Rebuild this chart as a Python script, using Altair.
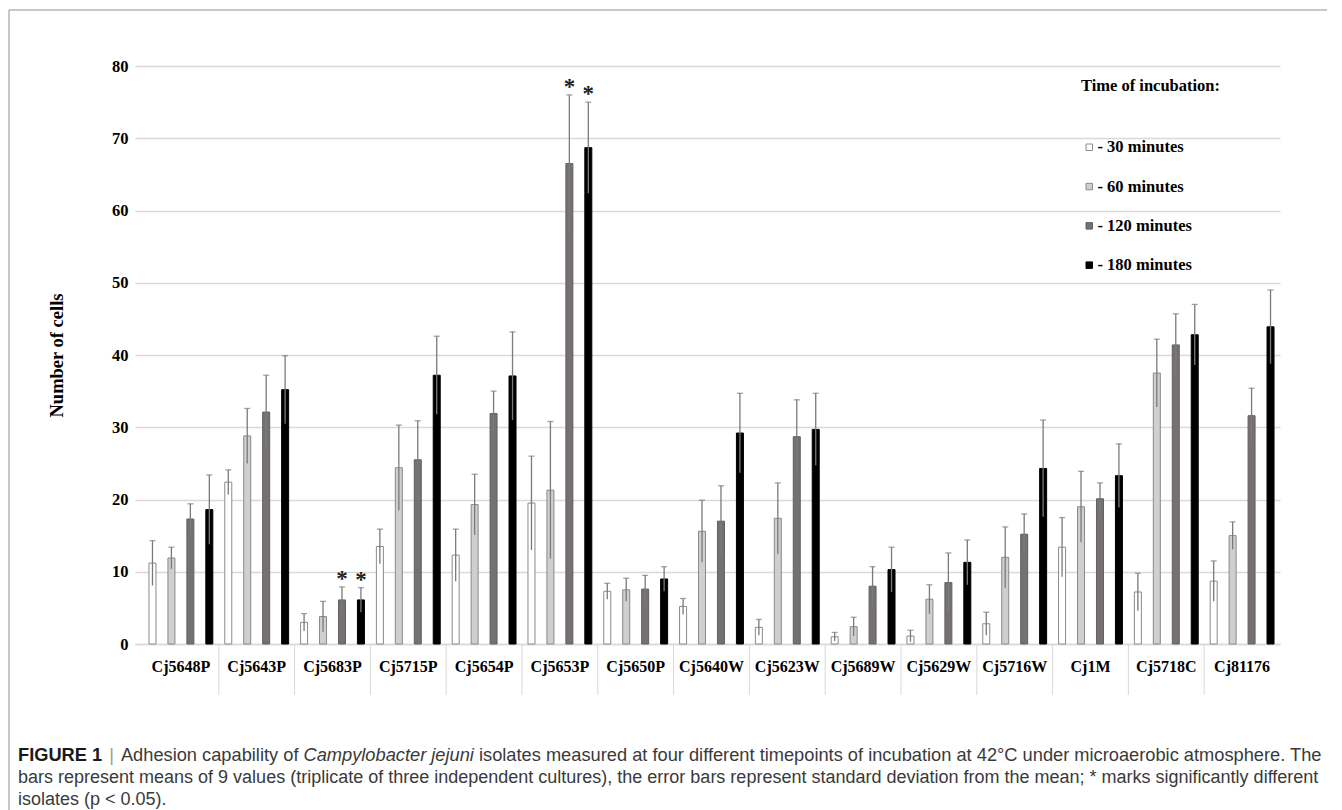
import altair as alt
import pandas as pd

# ---------------- data ----------------
isolates = ["Cj5648P", "Cj5643P", "Cj5683P", "Cj5715P", "Cj5654P", "Cj5653P", "Cj5650P",
            "Cj5640W", "Cj5623W", "Cj5689W", "Cj5629W", "Cj5716W", "Cj1M", "Cj5718C", "Cj81176"]
times = ["30 minutes", "60 minutes", "120 minutes", "180 minutes"]

mean_30 = [11.2, 22.4, 3.0, 13.5, 12.3, 19.5, 7.3, 5.2, 2.3, 1.0, 1.1, 2.8, 13.4, 7.2, 8.7]
sd_30 = [3.1, 1.7, 1.2, 2.4, 3.6, 6.5, 1.1, 1.1, 1.1, 0.6, 0.8, 1.6, 4.1, 2.6, 2.8]
mean_60 = [11.9, 28.8, 3.8, 24.4, 19.3, 21.3, 7.5, 15.6, 17.4, 2.4, 6.2, 12.0, 19.0, 37.5, 15.0]
sd_60 = [1.5, 3.8, 2.1, 5.9, 4.2, 9.5, 1.6, 4.3, 4.9, 1.3, 2.0, 4.2, 4.9, 4.7, 1.9]
mean_120 = [17.3, 32.1, 6.1, 25.5, 31.9, 66.5, 7.6, 17.0, 28.7, 8.0, 8.5, 15.2, 20.1, 41.4, 31.6]
sd_120 = [2.1, 5.1, 1.8, 5.4, 3.1, 9.5, 1.9, 4.9, 5.1, 2.7, 4.1, 2.8, 2.2, 4.3, 3.8]
mean_180 = [18.6, 35.2, 6.1, 37.2, 37.1, 68.7, 9.0, 29.2, 29.7, 10.3, 11.3, 24.3, 23.3, 42.8, 43.9]
sd_180 = [4.8, 4.7, 1.7, 5.4, 6.1, 6.3, 1.7, 5.5, 5.0, 3.1, 3.1, 6.7, 4.4, 4.2, 5.1]

significant = [("Cj5683P", "120 minutes"), ("Cj5683P", "180 minutes"),
               ("Cj5653P", "120 minutes"), ("Cj5653P", "180 minutes")]

y_ticks = [0, 10, 20, 30, 40, 50, 60, 70, 80]

legend_title = "Time of incubation:"
y_title = "Number of cells"
cap_bold = "FIGURE 1"
cap_bar = "|"
cap_a = "Adhesion capability of"
cap_it = "Campylobacter jejuni"
cap_b = ("isolates measured at four different timepoints of incubation at 42°C under "
         "microaerobic atmosphere. The")
cap_line2 = ("bars represent means of 9 values (triplicate of three independent cultures), "
             "the error bars represent standard deviation from the mean; * marks significantly different")
cap_line3 = "isolates (p < 0.05)."

# ---------------- table ----------------
means = [mean_30, mean_60, mean_120, mean_180]
sds = [sd_30, sd_60, sd_120, sd_180]
rows = []
for i, iso in enumerate(isolates):
    for k, t in enumerate(times):
        m, s = means[k][i], sds[k][i]
        rows.append(dict(isolate=iso, time=t, mean=m, lo=m - s, hi=m + s,
                         sig=(iso, t) in significant))
df = pd.DataFrame(rows)

# ---------------- styles ----------------
SERIF = "Liberation Serif"
SANS = "Liberation Sans"
fills = ["#ffffff", "#d0cece", "#767171", "#000000"]
strokes = ["#8a8a8a", "#8a8a8a", "#646060", "#000000"]
ERR = "#7a7a7a"
GRID = "#d9d9d9"

STEP = 75.8
LEFT_GAP = 8
W, H = int(round(STEP * 15 + LEFT_GAP)), 578

xscale = alt.Scale(domain=isolates, paddingInner=0,
                   paddingOuter=LEFT_GAP / (2 * STEP), align=1)
x_axis = alt.Axis(title=None, labelFont=SERIF, labelFontWeight="bold", labelFontSize=16,
                  labelColor="black", labelAngle=0, labelPadding=14, ticks=False,
                  domainColor=GRID, domainWidth=1.3, grid=False)
yscale = alt.Scale(domain=[0, 80], nice=False)
y_axis = alt.Axis(title=y_title, titleFont=SERIF, titleFontWeight="bold", titleFontSize=18.5,
                  titleColor="black", titlePadding=45, labelFont=SERIF, labelFontWeight="bold",
                  labelFontSize=16.5, labelColor="black", labelPadding=7, values=y_ticks,
                  grid=True, gridColor=GRID, gridWidth=1.3, domain=False, ticks=False)

X = alt.X("isolate:N", sort=isolates, scale=xscale, axis=x_axis)
XO = alt.XOffset("time:N", sort=times, scale=alt.Scale(domain=times, paddingInner=0, paddingOuter=0))

leg = alt.Legend(title=None, orient="none", legendX=946, legendY=73, direction="vertical",
                 labelFont=SERIF, labelFontWeight="bold", labelFontSize=16.5, labelColor="black",
                 labelExpr="'- ' + datum.label", symbolType="square", symbolSize=42,
                 symbolStrokeWidth=1, rowPadding=22.3, labelOffset=0)

base = alt.Chart(df).encode(x=X, xOffset=XO)

bars = base.mark_bar(width=7, strokeWidth=1).encode(
    y=alt.Y("mean:Q", scale=yscale, axis=y_axis),
    fill=alt.Fill("time:N", sort=times, scale=alt.Scale(domain=times, range=fills), legend=leg),
    stroke=alt.Stroke("time:N", sort=times, scale=alt.Scale(domain=times, range=strokes), legend=leg),
)

err = base.mark_rule(color=ERR, strokeWidth=1.3).encode(
    y=alt.Y("lo:Q", scale=yscale, axis=y_axis), y2="hi:Q")
caps = base.mark_tick(color=ERR, thickness=1.3, size=6, orient="horizontal").encode(
    y=alt.Y("hi:Q", scale=yscale, axis=y_axis))
stars = base.transform_filter("datum.sig").mark_text(
    text="*", font=SERIF, fontSize=23, fontWeight="bold", color="#222222",
    baseline="alphabetic", dy=-1).encode(
    y=alt.Y("hi:Q", scale=yscale, axis=y_axis))

sep = alt.Chart(pd.DataFrame({"isolate": isolates[1:]})).mark_rule(color=GRID, strokeWidth=1).encode(
    x=alt.X("isolate:N", sort=isolates, scale=xscale, axis=x_axis, bandPosition=0),
    y=alt.value(H), y2=alt.value(H + 51))

one = pd.DataFrame({"a": [0]})
leg_title = alt.Chart(one).mark_text(
    text=legend_title, font=SERIF, fontWeight="bold", fontSize=16.5, color="black",
    align="left", baseline="middle").encode(x=alt.value(946), y=alt.value(20))

frame_v = alt.Chart(one).mark_rule(color="#909090", strokeWidth=1).encode(
    x=alt.value(-126), y=alt.value(-56), y2=alt.value(800))
frame_h = alt.Chart(one).mark_rule(color="#909090", strokeWidth=1).encode(
    x=alt.value(-126), x2=alt.value(1200), y=alt.value(-56))

# caption (Arial/Liberation Sans advance widths, per 1000 em) to place the styled pieces
REG = {' ': 278, '|': 260, 'A': 667, 'C': 722, 'a': 556, 'b': 556, 'c': 500, 'd': 556,
       'e': 556, 'f': 278, 'h': 556, 'i': 222, 'j': 222, 'l': 222, 'm': 833, 'n': 556,
       'o': 556, 'p': 556, 'r': 333, 's': 500, 't': 278, 'u': 556, 'y': 500}
BOLD = {' ': 278, 'F': 611, 'I': 278, 'G': 778, 'U': 722, 'R': 722, 'E': 667, '1': 556}
CS = 18
CS1 = 18.25  # first line is justified a little wider in the reference


def tw(s, table, size):
    return sum(table.get(c, 556) for c in s) * size / 1000.0


cx0 = -117
x_bar = cx0 + tw(cap_bold, BOLD, CS1) + 7
x_a = x_bar + tw("|", REG, CS1) + 7
x_it = x_a + tw(cap_a + " ", REG, CS1)
x_b = x_it + tw(cap_it + " ", REG, CS1)
L1, L2, L3 = 695, 717, 739
CAPC = "#3a3a3a"


def cap_text(txt, x, y, size=CS, **kw):
    return alt.Chart(one).mark_text(text=txt, font=SANS, fontSize=size, align="left",
                                    baseline="alphabetic", **kw).encode(
        x=alt.value(x), y=alt.value(y))


caption = [
    cap_text(cap_bold, cx0, L1, CS1, fontWeight="bold", color="#1a1a1a"),
    cap_text(cap_bar, x_bar, L1, CS1, color="#9a9a9a"),
    cap_text(cap_a, x_a, L1, CS1, color=CAPC),
    cap_text(cap_it, x_it, L1, CS1, fontStyle="italic", color=CAPC),
    cap_text(cap_b, x_b, L1, CS1, color=CAPC),
    cap_text(cap_line2, cx0, L2, color=CAPC),
    cap_text(cap_line3, cx0, L3, color=CAPC),
]

chart = alt.layer(bars, err, caps, stars, sep, leg_title, frame_v, frame_h, *caption).properties(
    width=W, height=H,
    autosize=alt.AutoSizeParams(type="none"),
    padding={"left": 127, "top": 58, "right": 1319 - 127 - W, "bottom": 802 - 58 - H},
    background="white",
).configure_view(stroke=None)

chart.save("out.html", embed_options={"renderer": "svg", "actions": False})
